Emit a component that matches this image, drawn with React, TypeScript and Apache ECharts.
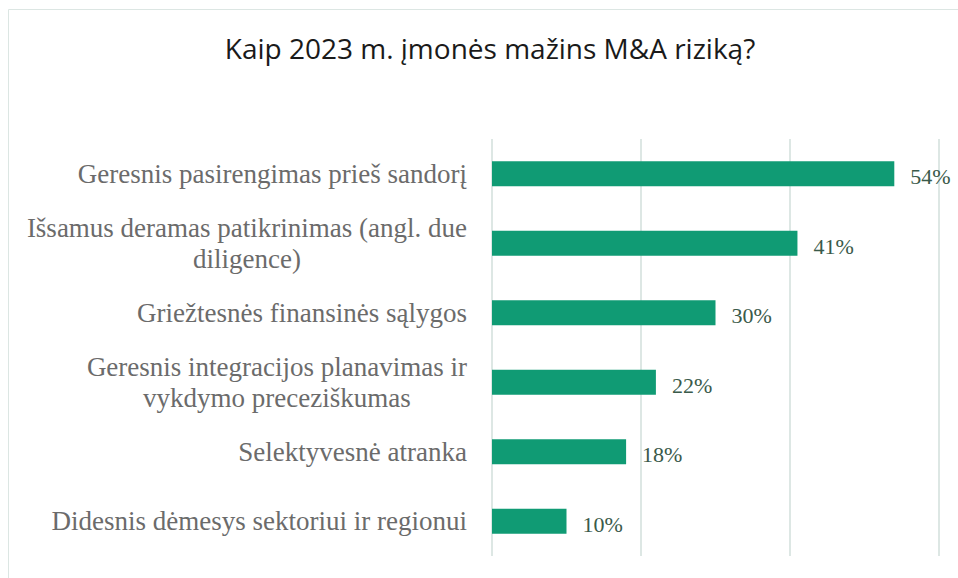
import React, { useEffect, useRef } from "react";
import * as echarts from "echarts";

const titleText = "Kaip 2023 m. įmonės mažins M&A riziką?";
const categories = [
  "Geresnis pasirengimas prieš sandorį",
  "Išsamus deramas patikrinimas (angl. due\ndiligence)",
  "Griežtesnės finansinės sąlygos",
  "Geresnis integracijos planavimas ir\nvykdymo preceziškumas",
  "Selektyvesnė atranka",
  "Didesnis dėmesys sektoriui ir regionui",
];
const values = [54, 41, 30, 22, 18, 10];
const axisMin = 0;
const axisMax = 60;
const axisInterval = 20;

export default function App() {
  const ref = useRef<HTMLDivElement>(null);
  useEffect(() => {
    if (!ref.current) return;
    const chart = echarts.init(ref.current, null, { renderer: "svg" });
    chart.setOption({
      animation: false,
      backgroundColor: "#ffffff",
      graphic: [
        {
          type: "rect",
          shape: { x: 8.5, y: 9.5, width: 1000, height: 1000 },
          style: { fill: "none", stroke: "#dce6e3", lineWidth: 1 },
          silent: true,
          z: -1,
        },
        {
          type: "text",
          x: 490,
          y: 48,
          style: {
            text: titleText,
            textAlign: "center",
            textVerticalAlign: "middle",
            fontFamily: "Open Sans",
            fontSize: 28,
            fill: "#1a1a1a",
          },
        },
      ],
      grid: {
        left: 492,
        right: 19,
        top: 139,
        bottom: 22,
        containLabel: false,
        outerBoundsMode: "none",
      },
      xAxis: {
        type: "value",
        min: axisMin,
        max: axisMax,
        interval: axisInterval,
        axisLabel: { show: false },
        axisTick: { show: false },
        axisLine: { show: false },
        splitLine: { show: true, lineStyle: { color: "#dde7e4", width: 2 } },
      },
      yAxis: {
        type: "category",
        data: categories,
        inverse: true,
        axisLine: { show: false },
        axisTick: { show: false },
        axisLabel: {
          margin: 25,
          align: "right",
          formatter: (v: string) =>
            v
              .split("\n")
              .map((l) => `{a|${l}}`)
              .join("\n"),
          rich: {
            a: {
              align: "center",
              fontFamily: "Liberation Serif",
              fontSize: 27,
              lineHeight: 31,
              color: "#6b6b6b",
            },
          },
        },
      },
      series: [
        {
          type: "bar",
          data: values,
          barWidth: 25,
          itemStyle: { color: "#109b74" },
          label: {
            show: true,
            position: "right",
            distance: 16,
            formatter: "{c}%",
            fontFamily: "Liberation Serif",
            fontSize: 22,
            color: "#3a5a4a",
            offset: [0, 3],
          },
        },
      ],
    });
    return () => chart.dispose();
  }, []);
  return (
    <div
      ref={ref}
      style={{ position: "absolute", left: 0, top: 0, width: 958, height: 578 }}
    />
  );
}
